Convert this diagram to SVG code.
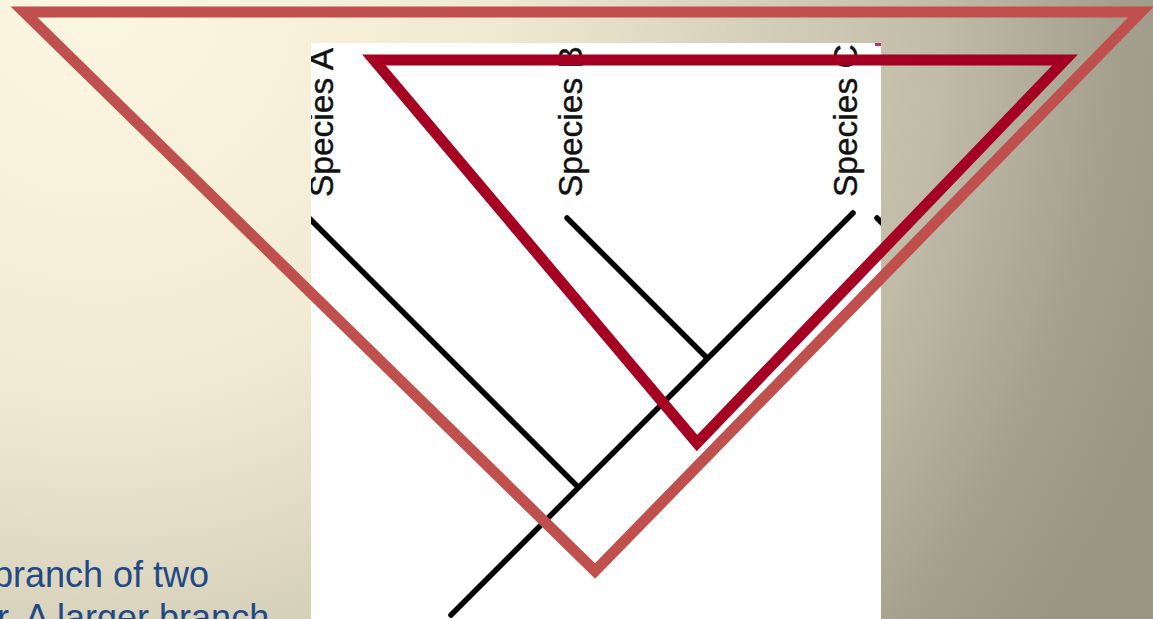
<svg xmlns="http://www.w3.org/2000/svg" width="1153" height="619" viewBox="0 0 1153 619">
  <defs>
    <radialGradient id="bg" gradientUnits="userSpaceOnUse" cx="100" cy="0" r="1130">
      <stop offset="0" stop-color="#FDF7E1"/>
      <stop offset="0.35" stop-color="#F1EAD3"/>
      <stop offset="0.5" stop-color="#DFD9C3"/>
      <stop offset="0.75" stop-color="#BFBBA7"/>
      <stop offset="0.9" stop-color="#A4A08D"/>
      <stop offset="1" stop-color="#9A9684"/>
    </radialGradient>
    <clipPath id="imgClip">
      <rect x="311" y="43" width="570" height="576"/>
    </clipPath>
  </defs>
  <style>
    .caption { font-family: "Liberation Sans", Arial, sans-serif; font-size: 36px; fill: #1F4A85; }
    .species { font-family: "Liberation Sans", Arial, sans-serif; font-size: 33.5px; fill: #111111; stroke: #111111; stroke-width: 0.4; }
    .branch { stroke: #000000; stroke-width: 5.5; fill: none; stroke-linecap: round; }
    .tri { fill: none; stroke-width: 11; stroke-linejoin: miter; }
  </style>

  <rect id="background" x="0" y="0" width="1153" height="619" fill="url(#bg)"/>

  <g id="caption">
    <text class="caption" x="-7" y="587">branch of two</text>
    <text class="caption" x="-3" y="630">r. A larger branch</text>
  </g>

  <g id="tree-image" clip-path="url(#imgClip)">
    <rect x="311" y="43" width="570" height="576" fill="#FFFFFF"/>
    <rect x="875" y="43" width="6" height="3" fill="#C0307A"/>
    <g id="species-a">
      <text class="species" transform="translate(333,197) rotate(-90)">Species A</text>
    </g>
    <g id="species-b">
      <text class="species" transform="translate(582,197) rotate(-90)">Species B</text>
    </g>
    <g id="species-c">
      <text class="species" transform="translate(857,197) rotate(-90)">Species C</text>
    </g>
    <g id="connectors">
      <line class="branch" x1="451" y1="615" x2="853" y2="213"/>
      <line class="branch" x1="578" y1="487" x2="305" y2="214"/>
      <line class="branch" x1="707" y1="358" x2="567" y2="218"/>
      <line class="branch" x1="877" y1="218" x2="900" y2="241"/>
    </g>
  </g>

  <g id="outer-triangle">
    <polygon class="tri" stroke="#C0504D" points="24,12 1141,12 595,571"/>
  </g>
  <g id="inner-triangle">
    <polygon class="tri" stroke="#A50021" points="374,60 1065,60 697,443"/>
  </g>
</svg>
